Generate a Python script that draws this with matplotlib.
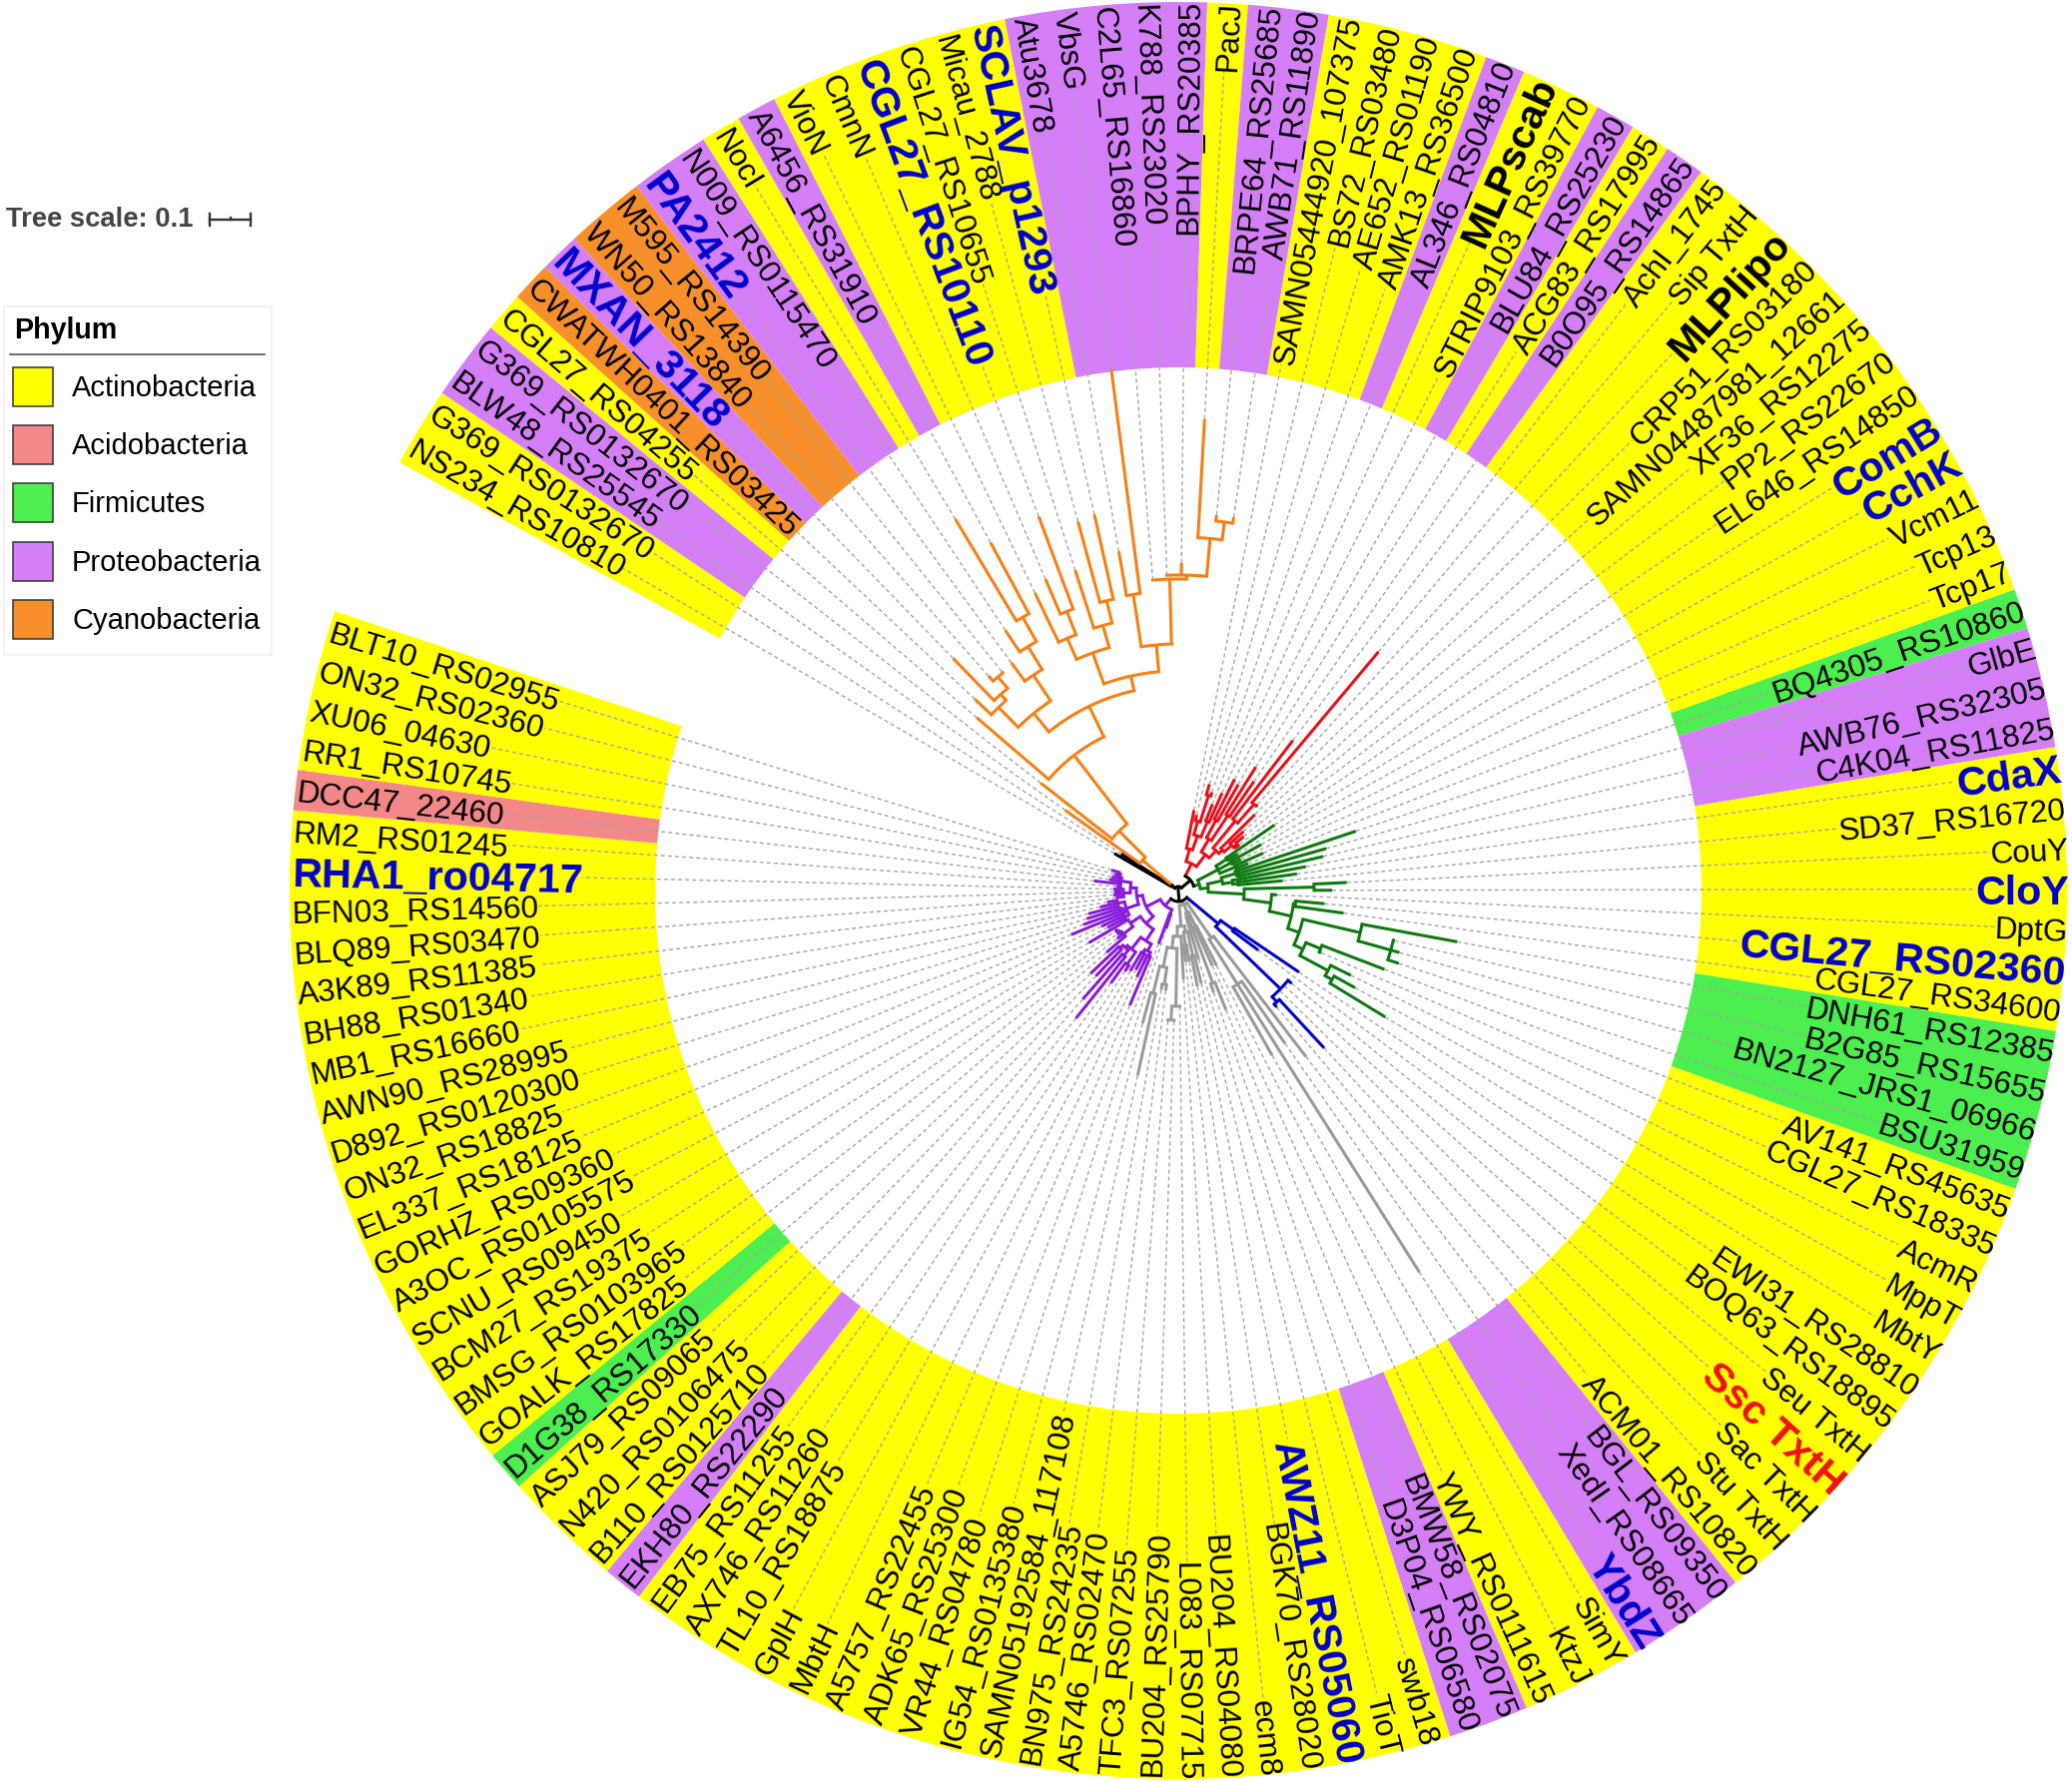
import numpy as np
import matplotlib
matplotlib.use('Agg')
import matplotlib.pyplot as plt
from matplotlib.patches import Rectangle
from matplotlib.textpath import TextPath
from matplotlib.font_manager import FontProperties

plt.rcParams['font.family'] = ['Liberation Sans', 'DejaVu Sans']

LABELS = ["NS234_RS10810","G369_RS0132670","BLW48_RS25545","G369_RS0132670","CGL27_RS04255",
"CWATWH0401_RS03425","MXAN_3118","WN50_RS13840","M595_RS14390","PA2412","N009_RS0115470","NocI",
"A6456_RS31910","VioN","CmnN","CGL27_RS10110","CGL27_RS10655","Micau_2788","SCLAV_p1293","Atu3678",
"VbsG","C2L65_RS16860","K788_RS23020","BPHY_RS20385","PacJ","BRPE64_RS25685","AWB71_RS11890",
"SAMN05444920_107375","BS72_RS03480","AE652_RS01190","AMK13_RS36500","AL346_RS04810","MLPscab",
"STRIP9103_RS39770","BLU84_RS25230","ACG83_RS17995","B0O95_RS14865","AchI_1745","Sip TxtH","MLPlipo",
"CRP51_RS03180","SAMN04487981_12661","XF36_RS12275","PP2_RS22670","EL646_RS14850","ComB","CchK",
"Vcm11","Tcp13","Tcp17","BQ4305_RS10860","GlbE","AWB76_RS32305","C4K04_RS11825","CdaX","SD37_RS16720",
"CouY","CloY","DptG","CGL27_RS02360","CGL27_RS34600","DNH61_RS12385","B2G85_RS15655","BN2127_JRS1_06966",
"BSU31959","AV141_RS45635","CGL27_RS18335","AcmR","MppT","MbtY","EWI31_RS28810","BOQ63_RS18895",
"Seu TxtH","Ssc TxtH","Sac TxtH","Stu TxtH","ACM01_RS10820","BGL_RS09350","XedI_RS08665","YbdZ","SimY",
"KtzJ","YWY_RS0111615","BMW58_RS02075","D3P04_RS06580","swb18","TioT","AWZ11_RS05060","BGK70_RS28020",
"ecm8","BU204_RS04080","L083_RS07715","BU204_RS25790","TFC3_RS07255","A5746_RS02470","BN975_RS24235",
"SAMN05192584_117108","IG54_RS0135380","VR44_RS04780","ADK65_RS25300","A5757_RS22455","MbtH","GplH",
"TL10_RS18875","AX746_RS11260","EB75_RS11255","EKH80_RS22290","B110_RS0125710","N420_RS0106475",
"ASJ79_RS09065","D1G38_RS17330","GOALK_RS17825","BMSG_RS0103965","BCM27_RS19375","SCNU_RS09450",
"A3OC_RS0105575","GORHZ_RS09360","EL337_RS18125","ON32_RS18825","D892_RS0120300","AWN90_RS28995",
"MB1_RS16660","BH88_RS01340","A3K89_RS11385","BLQ89_RS03470","BFN03_RS14560","RHA1_ro04717","RM2_RS01245",
"DCC47_22460","RR1_RS10745","XU06_04630","ON32_RS02360","BLT10_RS02955"]

# phylum of each leaf as runs (phylum code, number of leaves), clockwise from NS234
PHYLUM_RUNS = [("Act",2),("Pro",2),("Act",1),("Cya",1),("Pro",1),("Cya",2),("Pro",2),("Act",1),("Pro",1),
("Act",6),("Pro",5),("Act",1),("Pro",2),("Act",4),("Pro",1),("Act",2),("Pro",1),("Act",1),("Pro",1),
("Act",13),("Fir",1),("Pro",3),("Act",7),("Fir",4),("Act",12),("Pro",3),("Act",3),("Pro",2),("Act",21),
("Pro",1),("Act",3),("Fir",1),("Act",17),("Aci",1),("Act",4)]
PHYLUM_COLORS = {"Act":"#ffff00","Aci":"#f38888","Fir":"#4dee4f","Pro":"#d47ff8","Cya":"#f7902a"}
LEGEND_NAMES = ["Actinobacteria","Acidobacteria","Firmicutes","Proteobacteria","Cyanobacteria"]
LEGEND_KEYS = ["Act","Aci","Fir","Pro","Cya"]

BLUE_BOLD = {"PA2412","MXAN_3118","CGL27_RS10110","SCLAV_p1293","ComB","CchK","CdaX","CloY","CGL27_RS02360",
             "YbdZ","AWZ11_RS05060","RHA1_ro04717"}
RED_BOLD = {"Ssc TxtH"}
BLACK_BOLD = {"MLPscab","MLPlipo"}

# tree clades: [radius of node, [children]]; a plain number is a leaf tip radius
BLACK = [10,[74,68]]
O_LEFT = [229,[[257,[280,[265,[324,[280,[287,282]]]]]],[260,[283,[287,[313,[315,[434,396]]]]]]]]
O_MID = [253,[[276,[331,[301,[339,400]]]],[276,[337,[299,[383,386]]]]]]
O_TOP = [247,[[300,[345,526]],[312,[312,[316,[316,328,[354,[473,[372,[378,378]]]]]]]]]]
ORANGE = [47,[139,[84,[175,[171,[266,[205,[O_LEFT,[220,[O_MID,O_TOP]]]]]]]]]]
RED = [30,[[43,[82,[58,[[72,[78,[100,[111,104]]]],[75,[93,107]]]]]],
           [45,[[60,[[80,[125,122]],[90,[146,133]]]],
                [55,[[90,[189,[115,[312,117]]]],[60,[108,[70,[88,[75,[85,70]]]]]]]]]]]]
G_NEAR = [45,[[58,[116.6,70]],[60,[95,70]],[62,[93,75]]]]
G_FAN = [45,[[60,[187.5,[62,[154,149]]]],[55,[130,[60,[120,105]]]]]]
G_FAR = [128,[[187,[284,[221,[222.6,230,232.6]]]],[138,[[154,[221,156]],[170,[192.6,[178,[202,243]]]]]]]]
G_SPINE = [66,[[136,[169,154]],[93.5,[99,[116,[[118,[147,167]],G_FAR]]]]]]
GREEN = [22,[G_NEAR,[30,[G_FAN,G_SPINE]]]]
BLUE = [52,[[68,[146,100]],[142,[147,143,143,[149,[215,153]]]]]]
GREY = [15,[[58,[210,[111,[187,452,190]]]],
            [24,[[40,[84.5,83]],[28,[[99,[129,108]],72]]]],
            [36,[[42,[[67,[96,98]],[55,[72,72]]]],
                 [46,[89,[58,[[116,[116.5,[130,[131,131]]]],[78,[[95,[101,101]],[106,[190,138]]]]]]]]]]]]
P_A = [46,[[60,[[68,[[72,[125,96]],[72,[90,94]]]],[75,[[90,[97,115]],[78,[[85,[164,145]],[82,[119,121]]]]]]]],
           [58,[[70,[95,[72,[78,[74,[70,72]]]]]],104]]]]
P_B = [42,[[55,[[60,[80,85]],[58,[116,[60,[101,96]]]],[62,[93,80,72]]]],
           [48,[[55,[63,65,[58,[64,65,62]]]],[58,[85,[60,[70,68,[62,[66,70]]]]]]]]]]
PURPLE = [20,[[25,[40,57]],[36,[P_A,P_B]]]]

RING_IN, RING_OUT = 524, 890
LABEL_R_RIGHT, LABEL_R_LEFT = 892, 888
FIRST_DEG, STEP_DEG = 151.2, 2.628
CX, CY = 1180, 892
W, H = 2075, 1786

fig = plt.figure(figsize=(W/100, H/100), dpi=100, facecolor='white')
bg = fig.add_axes([0, 0, 1, 1], zorder=0)
bg.set_xlim(0, W); bg.set_ylim(H, 0); bg.axis('off')
ax = fig.add_axes([(CX-RING_OUT)/W, (H-CY-RING_OUT)/H, 2*RING_OUT/W, 2*RING_OUT/H],
                  projection='polar', zorder=1)
ax.set_facecolor('none')
ax.set_rlim(0, RING_OUT)
ax.set_autoscale_on(False)
ax.axis('off')

n = len(LABELS)
theta = np.radians(FIRST_DEG - (np.arange(n) + 0.5) * STEP_DEG)
# one wedge per run of equal phylum, so no seams show between neighbouring leaves
counts = np.array([c for _, c in PHYLUM_RUNS])
starts = np.concatenate(([0], np.cumsum(counts)[:-1]))
ax.bar(np.radians(FIRST_DEG - (starts + counts / 2) * STEP_DEG), RING_OUT-RING_IN,
       width=np.radians(counts * STEP_DEG), bottom=RING_IN,
       color=[PHYLUM_COLORS[p] for p, _ in PHYLUM_RUNS], linewidth=0, zorder=1, clip_on=False)

tips = {}
counter = [0]
LW = 2.2

def lay(node, color, parent_r=0.0):
    """Draw a clade; returns its angle."""
    if not isinstance(node, list):
        i = counter[0]; counter[0] += 1
        t = theta[i]; tips[i] = node
        ax.plot([t, t], [parent_r, node], color=color, lw=LW, solid_capstyle='butt', zorder=4, clip_on=False)
        return t
    r, kids = node
    ts = [lay(k, color, r) for k in kids]
    t = 0.5 * (ts[0] + ts[-1])
    ax.plot([t, t], [parent_r, r], color=color, lw=LW, solid_capstyle='butt', zorder=4, clip_on=False)
    arc = np.linspace(ts[0], ts[-1], 24)
    ax.plot(arc, np.full_like(arc, r), color=color, lw=LW, solid_capstyle='projecting', zorder=4, clip_on=False)
    return t

def stem(r0, r1, t):
    ax.plot([t, t], [r0, r1], color='black', lw=LW, solid_capstyle='butt', zorder=5, clip_on=False)

def arc_k(r, t0, t1):
    a = np.linspace(t0, t1, 24)
    ax.plot(a, np.full_like(a, r), color='black', lw=LW, zorder=5, clip_on=False)

NODE_A_R, NODE_B_R, NODE_D_R, NODE_C_R = 8, 16, 4, 11
t_black = lay(BLACK, 'black', NODE_A_R)
t_orange = lay(ORANGE, '#f77f14', NODE_A_R)
t_red = lay(RED, '#e8101a', NODE_B_R)
t_green = lay(GREEN, '#0f7a12', NODE_B_R)
t_blue = lay(BLUE, '#0000cc', NODE_C_R)
t_grey = lay(GREY, '#9a9a9a', NODE_C_R)
t_purple = lay(PURPLE, '#8a1bd8', NODE_C_R)
assert counter[0] == n, counter[0]

t_a = (t_black + t_orange) / 2
t_b = (t_red + t_green) / 2
t_d = (t_a + t_b) / 2
t_c = (t_blue + t_purple) / 2
arc_k(NODE_A_R, t_black, t_orange); stem(NODE_D_R, NODE_A_R, t_a)
arc_k(NODE_B_R, t_red, t_green); stem(NODE_D_R, NODE_B_R, t_b)
arc_k(NODE_D_R, t_a, t_b); stem(0, NODE_D_R, t_d)
arc_k(NODE_C_R, t_blue, t_purple); stem(0, NODE_C_R, t_c)

FS_REG, FS_BOLD = 22.7, 29.7
for i, s in enumerate(LABELS):
    bold = s in BLUE_BOLD or s in RED_BOLD or s in BLACK_BOLD
    fs = FS_BOLD if bold else FS_REG
    col = '#0000cd' if s in BLUE_BOLD else ('#ee1111' if s in RED_BOLD else 'black')
    fp = FontProperties(family='Liberation Sans', weight='bold' if bold else 'normal')
    w = TextPath((0, 0), s, size=fs, prop=fp).get_extents().width * 100 / 72
    t = theta[i]
    right = np.cos(t) >= 0
    label_r = LABEL_R_RIGHT if right else LABEL_R_LEFT
    end = label_r - w - 4
    if end > tips[i]:
        ax.plot([t, t], [tips[i], end], color='#a5a5a5', lw=1.0, dashes=(2.9, 2.2), zorder=3, clip_on=False)
    deg = np.degrees(t)
    ax.text(t, label_r, s, rotation=deg if right else deg + 180, rotation_mode='anchor',
            ha='right' if right else 'left', va='center_baseline', fontproperties=fp, fontsize=fs,
            color=col, zorder=6, clip_on=False)

# tree scale
bg.text(6, 220, "Tree scale: 0.1", fontsize=19.7, fontweight='bold', color='#444444', va='center', ha='left')
SCALE_X0, SCALE_X1, SCALE_Y = 210, 251, 220
bg.plot([SCALE_X0, SCALE_X1], [SCALE_Y, SCALE_Y], color='#333333', lw=1.7)
for xv, hh in ((SCALE_X0, 6), (SCALE_X1, 6), ((SCALE_X0 + SCALE_X1) / 2, 2)):
    bg.plot([xv, xv], [SCALE_Y - hh, SCALE_Y + hh if hh > 2 else SCALE_Y], color='#333333', lw=1.7)

# legend
bg.add_patch(Rectangle((4, 307), 268, 349, facecolor='white', edgecolor='#f0f0f0', lw=1.2))
bg.text(14, 331, "Phylum", fontsize=20.6, fontweight='bold', color='black', va='center', ha='left')
bg.plot([10, 265], [355, 355], color='#444444', lw=1.1)
for k, (nm, key) in enumerate(zip(LEGEND_NAMES, LEGEND_KEYS)):
    y0 = 368 + k * 58.2
    bg.add_patch(Rectangle((13, y0), 40, 39, facecolor=PHYLUM_COLORS[key], edgecolor='#333333', lw=1.1))
    bg.text(72, y0 + 21, nm, fontsize=21.0, color='black', va='center', ha='left')

fig.savefig('out.png', dpi=100)
